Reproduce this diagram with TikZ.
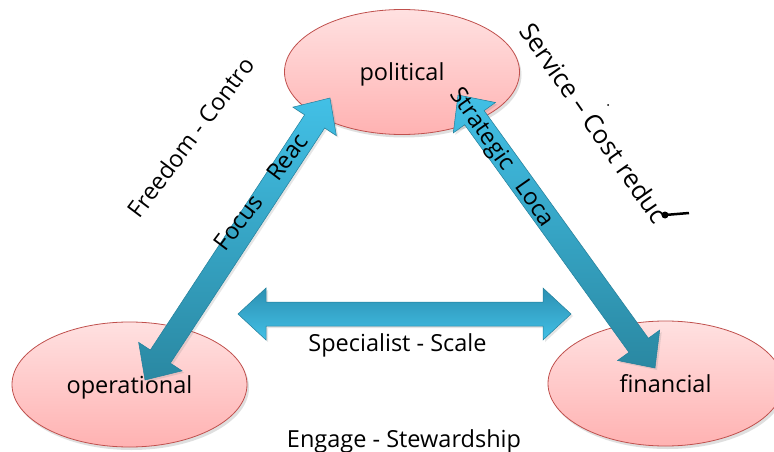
\documentclass[tikz,border=0pt]{standalone}
\usepackage{fontspec}
\setmainfont{Open Sans}
\usetikzlibrary{calc,shapes.geometric,shadows}

\definecolor{pinktop}{HTML}{FFE1E1}
\definecolor{pinkbot}{HTML}{FFB2B2}
\definecolor{ellred}{HTML}{C0504D}
\definecolor{cyanlight}{HTML}{42C0E6}
\definecolor{tealdark}{HTML}{2A88A2}
\definecolor{tealmid}{HTML}{2C90B2}
\definecolor{arrowedge}{HTML}{23809C}

\newcommand\diagfont{\fontsize{23.5pt}{28pt}\selectfont}
\newcommand\bigdiagfont{\fontsize{25.5pt}{30pt}\selectfont}

% Fat double-headed block arrow between two named coordinates
% #1 = start, #2 = end, #3 = extra shading options
\newcommand\fatarrow[3]{%
  \shade[blockarrow,#3]
    (#1)
    -- ($(#1)!28pt!(#2)!26pt!90:(#2)$)
    -- ($(#1)!28pt!(#2)!12pt!90:(#2)$)
    -- ($(#2)!28pt!(#1)!12pt!-90:(#1)$)
    -- ($(#2)!28pt!(#1)!26pt!-90:(#1)$)
    -- (#2)
    -- ($(#2)!28pt!(#1)!26pt!90:(#1)$)
    -- ($(#2)!28pt!(#1)!12pt!90:(#1)$)
    -- ($(#1)!28pt!(#2)!12pt!-90:(#2)$)
    -- ($(#1)!28pt!(#2)!26pt!-90:(#2)$)
    -- cycle;}

\tikzset{
  ellipsebox/.style={ellipse, minimum width=235pt, minimum height=125pt,
    inner sep=0pt, draw=ellred, line width=0.8pt,
    top color=pinktop, bottom color=pinkbot,
    drop shadow={opacity=0.25, shadow xshift=2pt, shadow yshift=-3pt},
    font=\diagfont, text height=18pt, text depth=0pt},
  blockarrow/.style={draw=arrowedge, line width=0.5pt, line join=miter,
    drop shadow={opacity=0.2, shadow xshift=2pt, shadow yshift=-2pt}},
  lbl/.style={font=\diagfont, inner sep=0pt, text=black},
}

\begin{document}
\begin{tikzpicture}[x=1pt, y=-1pt]
  \fill[white] (0,0) rectangle (774,452);
  \useasboundingbox (0,0) rectangle (774,452);

  % the three domains
  \node[ellipsebox] (pol) at (402,72)   {political};
  \node[ellipsebox] (ops) at (129.5,384.5) {operational};
  \node[ellipsebox] (fin) at (665.5,383.5) {financial};

  % arrow end points
  \coordinate (la1) at (145,380);
  \coordinate (la2) at (330,98);
  \coordinate (ra1) at (458,95);
  \coordinate (ra2) at (655,368);
  \coordinate (ha1) at (238,314);
  \coordinate (ha2) at (571,314);

  \fatarrow{la1}{la2}{top color=cyanlight, bottom color=tealdark}
  \fatarrow{ra1}{ra2}{top color=cyanlight, bottom color=tealdark}
  \fatarrow{ha1}{ha2}{top color=tealmid, bottom color=cyanlight}

  % tension labels (the first one runs out of its text box)
  \begin{scope}
    \clip (273.7,77.2) -- (225.7,41.0) -- (45.1,280.7) -- (93.1,316.9) -- cycle;
    \clip (0,0) rectangle (253,452);
    \node[lbl, rotate=53] (tfreedom) at (192.5,135) {Freedom - Control};
  \end{scope}
  \node[lbl, rotate=53] (tfocus) at (261,192) {Focus\hspace{24pt}Reac};
  \node[lbl, rotate=-55] (tstrategic) at (501,158) {Strategic\hspace{18pt}Loca};
  \node[lbl, font=\bigdiagfont, rotate=-55] (tservice) at (594,123) {Service – Cost reduc};
  \node[lbl, anchor=base] (tspecialist) at (397.5,351) {Specialist - Scale};
  \node[lbl, anchor=base] (tengage) at (404,447) {Engage - Stewardship};

  % stray pen marks
  \fill[black] (665,215) circle (3.5);
  \draw[black, line width=2.5pt] (665,215) -- (689,213);
  \fill[black] (608,105) circle (1);
\end{tikzpicture}
\end{document}
